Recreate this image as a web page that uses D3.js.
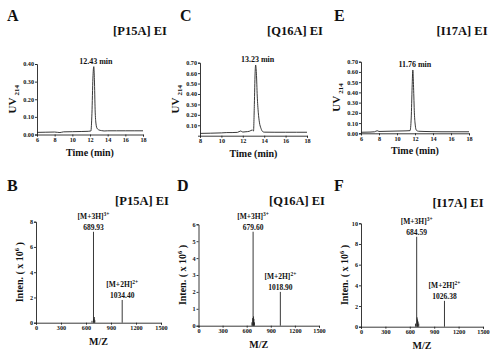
<!DOCTYPE html>
<html><head><meta charset="utf-8">
<script src="https://cdn.jsdelivr.net/npm/d3@7"></script>
<style>
html,body{margin:0;padding:0;background:#fff;}
svg text{font-family:"Liberation Serif","Times New Roman",serif;font-weight:bold;fill:#111;}
</style></head>
<body><svg id="c" width="500" height="356"></svg>
<script>
// ---------- DATA ----------
const panelLetters = ["A","C","E","B","D","F"];
const panelTitles = ["[P15A] EI","[Q16A] EI","[I17A] EI"];

// Chromatograms (time in min, UV214 absorbance)
const timeA = [6,7,8,8.6,9,10,11,11.8,12.1,12.22,12.33,12.43,12.5,12.58,12.68,12.8,13,13.3,13.6,14,15,16,17,18];
const uvA   = [0.012,0.013,0.014,0.011,0.015,0.016,0.017,0.018,0.02,0.12,0.32,0.385,0.31,0.14,0.06,0.035,0.026,0.022,0.02,0.021,0.021,0.021,0.021,0.021];
const timeC = [8,9,10,10.5,11,11.5,11.8,12,12.3,12.6,12.9,13.0,13.08,13.15,13.2,13.27,13.35,13.45,13.55,13.7,13.85,14,15,16,17,18];
const uvC   = [0.022,0.024,0.027,0.03,0.03,0.032,0.045,0.035,0.038,0.042,0.055,0.045,0.3,0.6,0.678,0.6,0.38,0.22,0.13,0.07,0.04,0.034,0.033,0.033,0.033,0.033];
const timeE = [6,7,7.5,7.8,8,9,10,11,11.45,11.58,11.68,11.76,11.84,11.93,12.03,12.15,12.4,13,14,15,16,17,18];
const uvE   = [0.01,0.012,0.015,0.025,0.018,0.02,0.022,0.024,0.026,0.15,0.45,0.619,0.45,0.2,0.08,0.03,0.02,0.018,0.016,0.015,0.015,0.015,0.015];
const peakTimeLabels = ["12.43 min","13.23 min","11.76 min"];
const uvTicksA = [0,0.1,0.2,0.3,0.4];
const uvTicksC = [0.1,0.2,0.3,0.4,0.5,0.6,0.7];
const uvTicksE = [0,0.1,0.2,0.3,0.4,0.5,0.6,0.7];
const timeTicksA = [6,8,10,12,14,16,18];
const timeTicksC = [8,10,12,14,16,18];
const timeTicksE = [6,8,10,12,14,16,18];

// Mass spectra (m/z, intensity x10^6)
const mzB = [672,689.93,695,700,706,1034.40];
const intB = [0.15,7.2,0.3,0.45,0.2,1.8];
const mzD = [665,674,679.60,685,690,697,1018.90];
const intD = [0.2,0.45,5.56,0.55,0.4,0.2,2.0];
const mzF = [670,684.59,690,695,702,710,1026.38];
const intF = [0.3,8.7,0.9,0.7,0.5,0.3,2.5];
const mzTicks = [0,300,600,900,1200,1500];
const intTicksB = [0,2,4,6,8];
const intTicksD = [0,1,2,3,4,5,6];
const intTicksF = [0,2,4,6,8,10];
const ionLabels3 = ["[M+3H]","689.93","679.60","684.59"];
const ionLabels2 = ["[M+2H]","1034.40","1018.90","1026.38"];

// ---------- DRAW ----------
const svg = d3.select("#c");
const ink = "#222";

function styleAxis(g){
  g.attr("color",ink);
  g.selectAll("path,line").attr("stroke",ink).attr("stroke-width",0.9);
  g.selectAll("text").attr("font-size",6.2).attr("fill","#111").style("fill","#111");
}

function chrom(cfg){
  const x = d3.scaleLinear().domain([cfg.xv[0],cfg.xv[cfg.xv.length-1]]).range([cfg.x0,cfg.x1]);
  const y = d3.scaleLinear().domain([0,cfg.ymax]).range([cfg.yb,cfg.yt]);
  const gx = svg.append("g").attr("transform",`translate(0,${cfg.yb})`)
    .call(d3.axisBottom(x).tickValues(cfg.xv).tickSize(2).tickPadding(1).tickFormat(d3.format("d")));
  styleAxis(gx);
  const gy = svg.append("g").attr("transform",`translate(${cfg.x0},0)`)
    .call(d3.axisLeft(y).tickValues(cfg.yv).tickSize(2).tickPadding(1).tickFormat(d3.format(".2f")));
  styleAxis(gy);
  const pts = cfg.t.map((d,i)=>[d,cfg.v[i]]);
  svg.append("path").datum(pts)
    .attr("d",d3.line().x(d=>x(d[0])).y(d=>y(d[1])).curve(d3.curveMonotoneX))
    .attr("fill","none").attr("stroke",ink).attr("stroke-width",0.9);
  const imax = d3.maxIndex(cfg.v);
  svg.append("text").attr("x",x(cfg.t[imax])+2).attr("y",y(cfg.v[imax])-3)
    .attr("text-anchor","middle").attr("font-size",8).text(cfg.label);
  svg.append("text").attr("x",(cfg.x0+cfg.x1)/2).attr("y",cfg.yb+21)
    .attr("text-anchor","middle").attr("font-size",10).text("Time (min)");
  const ty = svg.append("text").attr("transform",`translate(${cfg.x0-21},${(cfg.yt+cfg.yb)/2}) rotate(-90)`)
    .attr("text-anchor","middle").attr("font-size",11);
  ty.append("tspan").text("UV");
  ty.append("tspan").attr("font-size",7).attr("dy",2.5).attr("dx",2).text("214");
}

function ms(cfg){
  const x = d3.scaleLinear().domain([0,1500]).range([cfg.x0,cfg.x1]);
  const y = d3.scaleLinear().domain([0,cfg.ymax]).range([cfg.yb,cfg.yt]);
  const gx = svg.append("g").attr("transform",`translate(0,${cfg.yb})`)
    .call(d3.axisBottom(x).tickValues(mzTicks).tickSize(2).tickPadding(1).tickFormat(d3.format("d")));
  styleAxis(gx);
  const gy = svg.append("g").attr("transform",`translate(${cfg.x0},0)`)
    .call(d3.axisLeft(y).tickValues(cfg.yv).tickSize(2).tickPadding(1).tickFormat(d3.format("d")));
  styleAxis(gy);
  svg.append("g").selectAll("line").data(cfg.mz.map((d,i)=>[d,cfg.it[i]])).join("line")
    .attr("x1",d=>x(d[0])).attr("x2",d=>x(d[0]))
    .attr("y1",y(0)).attr("y2",d=>y(d[1]))
    .attr("stroke",ink).attr("stroke-width",0.9);
  const i3 = d3.maxIndex(cfg.it);
  const i2 = cfg.mz.length-1;
  [[i3,ionLabels3[0],"3+",ionLabels3[cfg.k]],[i2,ionLabels2[0],"2+",ionLabels2[cfg.k]]].forEach(([i,ion,ch,num])=>{
    const px = x(cfg.mz[i]), py = y(cfg.it[i]);
    const t = svg.append("text").attr("x",px).attr("y",py-13).attr("text-anchor","middle").attr("font-size",7.5);
    t.append("tspan").text(ion);
    t.append("tspan").attr("font-size",5.5).attr("dy",-3).text(ch);
    svg.append("text").attr("x",px).attr("y",py-2).attr("text-anchor","middle").attr("font-size",7.5).text(num);
  });
  svg.append("text").attr("x",(cfg.x0+cfg.x1)/2).attr("y",cfg.yb+22)
    .attr("text-anchor","middle").attr("font-size",10).text("M/Z");
  const ty = svg.append("text").attr("transform",`translate(${cfg.x0-13},${(cfg.yt+cfg.yb)/2}) rotate(-90)`)
    .attr("text-anchor","middle").attr("font-size",10);
  ty.append("tspan").text("Inten. ( x 10");
  ty.append("tspan").attr("font-size",6.5).attr("dy",-4).text("6");
  ty.append("tspan").attr("dy",4).text(" )");
}

chrom({t:timeA,v:uvA,xv:timeTicksA,yv:uvTicksA,ymax:0.4,x0:37,x1:143,yt:64,yb:134.5,label:peakTimeLabels[0]});
chrom({t:timeC,v:uvC,xv:timeTicksC,yv:uvTicksC,ymax:0.7,x0:200,x1:307,yt:62.7,yb:135.7,label:peakTimeLabels[1]});
chrom({t:timeE,v:uvE,xv:timeTicksE,yv:uvTicksE,ymax:0.7,x0:361,x1:469,yt:61.7,yb:133.3,label:peakTimeLabels[2]});

ms({mz:mzB,it:intB,yv:intTicksB,ymax:8,x0:36,x1:161,yt:221.7,yb:322.7,k:1});
ms({mz:mzD,it:intD,yv:intTicksD,ymax:6,x0:198.5,x1:319,yt:224.3,yb:325.7,k:2});
ms({mz:mzF,it:intF,yv:intTicksF,ymax:10,x0:361,x1:483,yt:223.3,yb:326.7,k:3});

// panel letters
const letterPos = [[7,21],[180,21],[334,21],[7,191],[177,191],[334,191]];
panelLetters.forEach((L,i)=>{
  svg.append("text").attr("x",letterPos[i][0]).attr("y",letterPos[i][1]).attr("font-size",16).text(L);
});
// panel titles
const titlePos = [[140,35],[295,35],[462,35],[142,205],[297,205],[458,207]];
titlePos.forEach((p,i)=>{
  svg.append("text").attr("x",p[0]).attr("y",p[1]).attr("text-anchor","middle").attr("font-size",12.5)
    .text(panelTitles[i%3]);
});
</script>
</body></html>
